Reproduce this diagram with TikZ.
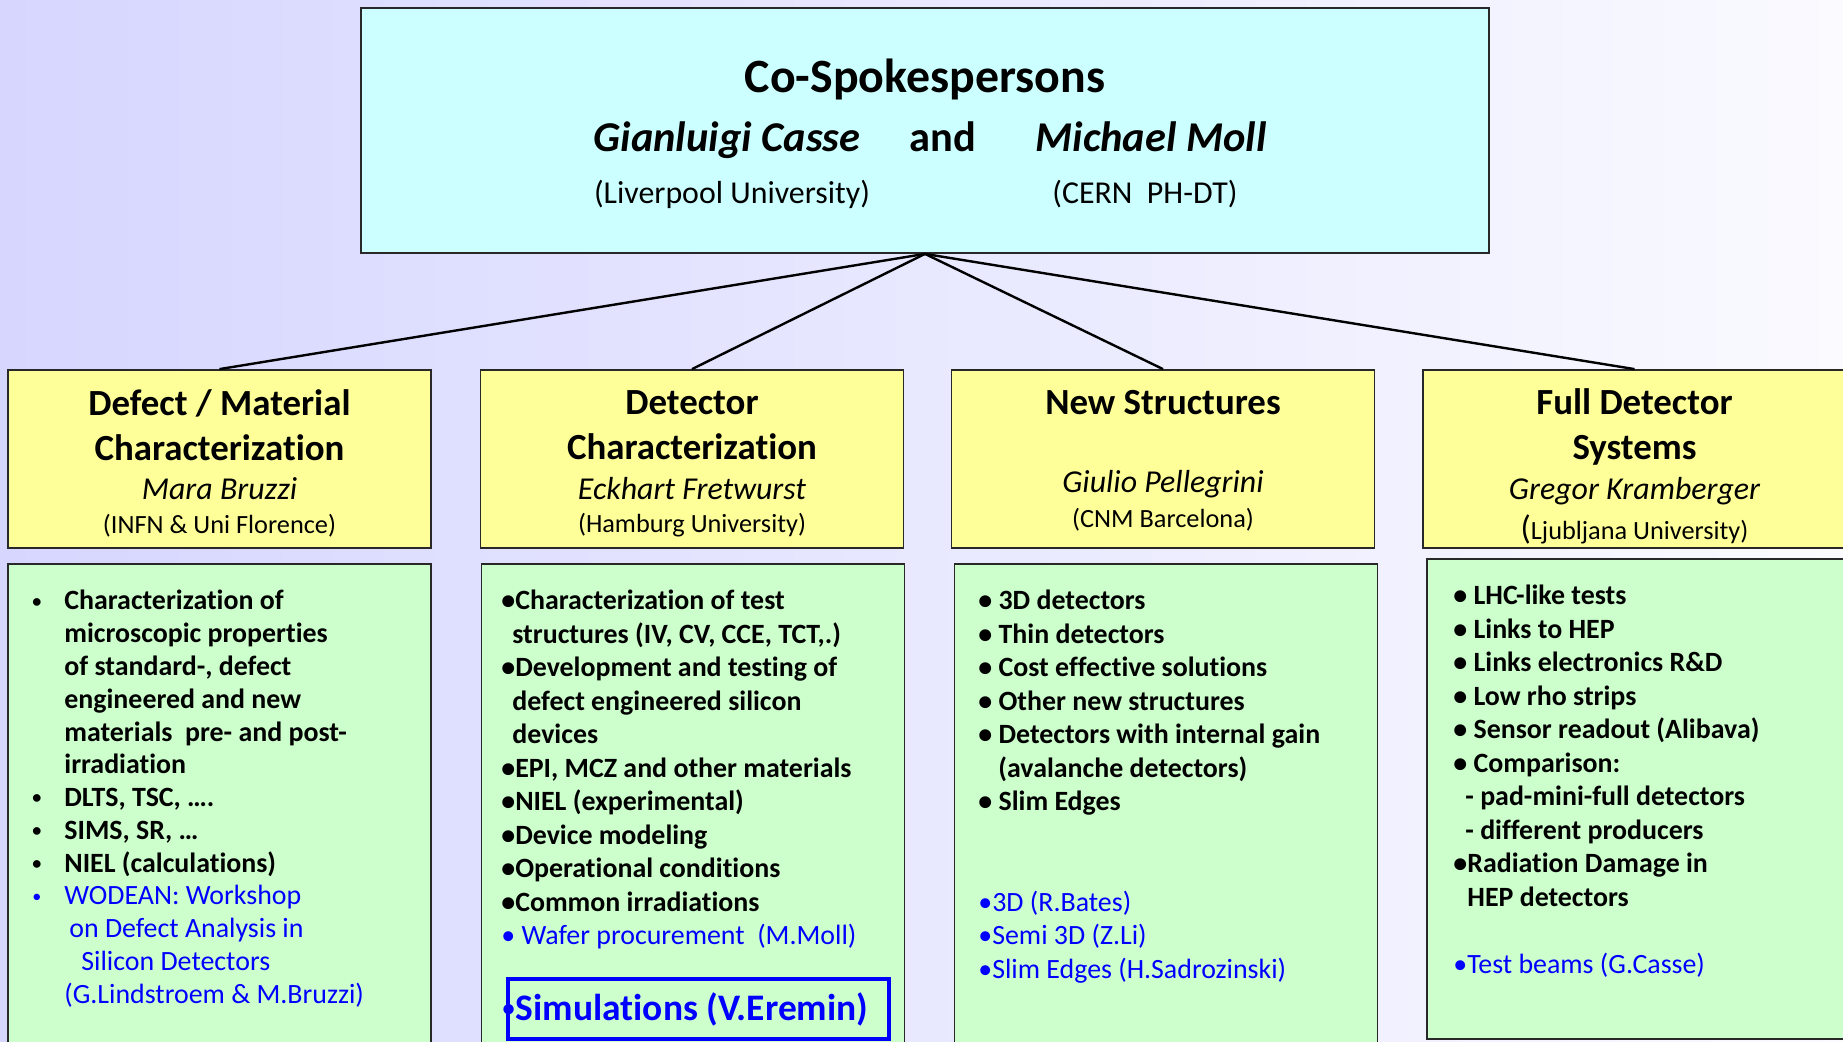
\documentclass[tikz,border=0pt]{standalone}
\usepackage{fontspec}
\setmainfont{Carlito}[Ligatures=NoCommon]
\usepackage{xcolor}
\usepackage{graphicx}
\usepackage{tikz}

\definecolor{topcyan}{HTML}{CCFFFF}
\definecolor{headyellow}{HTML}{FFFF99}
\definecolor{listgreen}{HTML}{CCFFCC}
\definecolor{bgleft}{RGB}{214,214,255}
\definecolor{bgright}{RGB}{250,250,255}
\definecolor{linkblue}{RGB}{0,0,255}
\definecolor{boxline}{RGB}{40,40,40}

\newcommand{\sbul}{\raisebox{0.1em}{\scalebox{0.65}{•}}}
\newcommand{\bx}[1]{\makebox[16bp][l]{\sbul}#1}
\newcommand{\bluetxt}[1]{{\color{linkblue}\mdseries#1}}
\newcommand{\fsz}[2]{\fontsize{#1}{#2}\selectfont}

\begin{document}
\begin{tikzpicture}[x=0.5bp,y=-0.5bp,
  topbox/.style={draw=boxline,line width=0.9bp,fill=topcyan,minimum width=564bp,minimum height=122.5bp},
  headbox/.style={draw=boxline,line width=0.9bp,fill=headyellow,minimum width=211.5bp,minimum height=89bp},
  listbox/.style={draw=boxline,line width=0.9bp,fill=listgreen,minimum width=211.5bp,minimum height=248bp},
  headtxt/.style={font=\fsz{18.5}{22.5}\bfseries,align=center},
  nametxt/.style={font=\fsz{16}{19}\itshape},
  affiltxt/.style={font=\fsz{13.2}{16}},
  listtxt/.style={font=\fsz{14}{16.8}\bfseries,align=left,anchor=north west,inner sep=0pt}]
\clip (0,0) rectangle (1843,1041);
\fill[left color=bgleft,right color=bgright] (0,0) rectangle (1843,1041); % background

% spokespersons
\node[topbox] (spokes) at (925,130.5) {};
\node[font=\fsz{24}{28}\bfseries] (title) at (925,79) {Co-Spokespersons};
\node[font=\fsz{21.3}{25}\bfseries\itshape,anchor=base] (casse) at (727,151) {Gianluigi Casse};
\node[font=\fsz{21.3}{25}\bfseries,anchor=base] (and) at (943,151) {and};
\node[font=\fsz{21.3}{25}\bfseries\itshape,anchor=base] (moll) at (1151,151) {Michael Moll};
\node[font=\fsz{16}{19}] (liverpool) at (732,194) {(Liverpool University)};
\node[font=\fsz{16}{19}] (cern) at (1145,194) {(CERN\ \ PH-DT)};

% working groups
\node[headbox] (defect) at (219.5,459) {};
\node[headbox] (detector) at (692,459) {};
\node[headbox] (newstruct) at (1163,459) {};
\node[headbox] (fullsys) at (1634.5,459) {};

\draw[line width=1.2bp] (spokes.south) -- (defect.north);
\draw[line width=1.2bp] (spokes.south) -- (detector.north);
\draw[line width=1.2bp] (spokes.south) -- (newstruct.north);
\draw[line width=1.2bp] (spokes.south) -- (fullsys.north);

\node[headtxt] (defecthead) at (219.5,425) {Defect / Material\\Characterization};
\node[nametxt] (bruzzi) at (219.5,489) {Mara Bruzzi};
\node[affiltxt] (florence) at (219.5,525.5) {(INFN \& Uni Florence)};

\node[headtxt] (detectorhead) at (692,425) {Detector\\Characterization};
\node[nametxt] (fretwurst) at (692,489) {Eckhart Fretwurst};
\node[affiltxt] (hamburg) at (692,525.5) {(Hamburg University)};

\node[headtxt] (newstructhead) at (1163,403) {New Structures};
\node[nametxt] (pellegrini) at (1163,484.5) {Giulio Pellegrini};
\node[affiltxt] (barcelona) at (1163,519.5) {(CNM Barcelona)};

\node[headtxt] (fullsyshead) at (1634.5,427) {Full Detector\\Systems};
\node[nametxt] (kramberger) at (1634.5,491) {Gregor Kramberger};
\node[affiltxt] (ljubljana) at (1634.5,529) {{\fsz{17}{19}(}Ljubljana University)};

% task lists
\node[listbox] (defectlist) at (219.5,812) {};
\node[listbox] (detectorlist) at (693,812) {};
\node[listbox] (newstructlist) at (1166,812) {};
\node[listbox,minimum height=240bp] (fullsyslist) at (1638.5,799) {};

\node[listtxt,font=\fsz{14}{16.45}\bfseries] (defectitems) at (32,590) {%
\bx{Characterization of}\\
\hspace*{16bp}microscopic properties\\
\hspace*{16bp}of standard-, defect\\
\hspace*{16bp}engineered and new\\
\hspace*{16bp}materials\ \ pre- and post-\\
\hspace*{16bp}irradiation\\
\bx{DLTS, TSC, ….}\\
\bx{SIMS, SR, …}\\
\bx{NIEL (calculations)}\\
\bluetxt{\bx{WODEAN: Workshop}}\\
\bluetxt{\hspace*{18.5bp}on Defect Analysis in}\\
\bluetxt{\hspace*{24.5bp}Silicon Detectors}\\
\bluetxt{\hspace*{16bp}(G.Lindstroem \& M.Bruzzi)}};

\node[listtxt] (detectoritems) at (501,590) {%
•Characterization of test\\
\hspace*{5.5bp}structures (IV, CV, CCE, TCT,.)\\
•Development and testing of\\
\hspace*{5.5bp}defect engineered silicon\\
\hspace*{5.5bp}devices\\
•EPI, MCZ and other materials\\
•NIEL (experimental)\\
•Device modeling\\
•Operational conditions\\
•Common irradiations\\
\bluetxt{• Wafer procurement\ \ (M.Moll)}};
\node[draw=linkblue,line width=1.8bp,minimum width=190.5bp,minimum height=30bp,inner xsep=0pt,
  font=\fsz{18.8}{22}\bfseries,text=linkblue] (simul) at (698.5,1009)
  {\raisebox{-1.8bp}{\llap{\sbul\hspace{0.5bp}}Simulations (V.Eremin)}\hspace*{6.5bp}};

\node[listtxt] (newstructitems) at (978,590) {%
• 3D detectors\\
• Thin detectors\\
• Cost effective solutions\\
• Other new structures\\
• Detectors with internal gain\\
\hspace*{10bp}(avalanche detectors)\\
• Slim Edges\\
\mbox{}\\
\mbox{}\\
\bluetxt{•3D (R.Bates)}\\
\bluetxt{•Semi 3D (Z.Li)}\\
\bluetxt{•Slim Edges (H.Sadrozinski)}};

\node[listtxt] (fullsysitems) at (1453,585) {%
• LHC-like tests\\
• Links to HEP\\
• Links electronics R\&D\\
• Low rho strips\\
• Sensor readout (Alibava)\\
• Comparison:\\
\hspace*{6bp}- pad-mini-full detectors\\
\hspace*{6bp}- different producers\\
•Radiation Damage in\\
\hspace*{7bp}HEP detectors\\
\mbox{}\\
\bluetxt{•Test beams (G.Casse)}};
\end{tikzpicture}
\end{document}
